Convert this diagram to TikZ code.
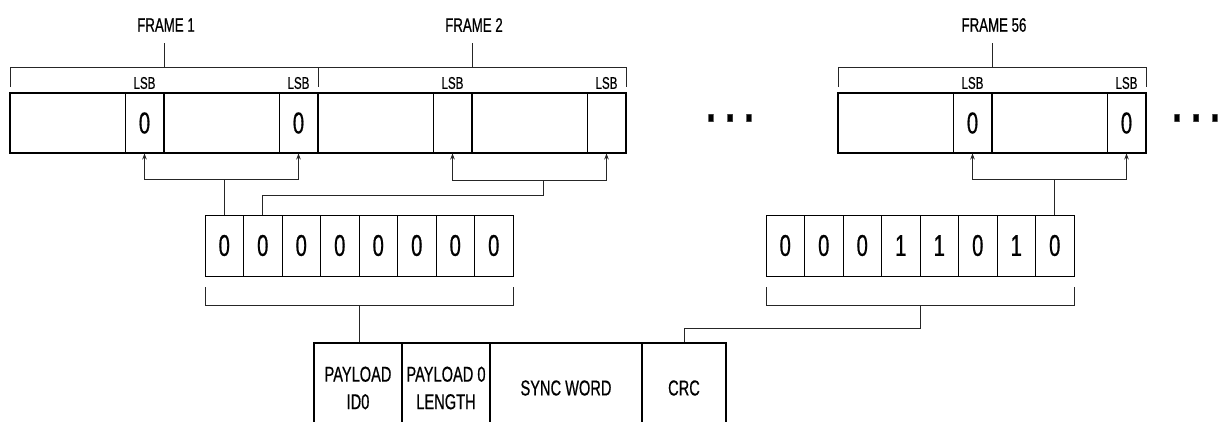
\documentclass[tikz,border=0pt]{standalone}
\usepackage{fontspec}
\setmainfont{Liberation Sans}[FakeStretch=0.68,FakeBold=0.6]
\usetikzlibrary{arrows.meta}
\begin{document}
\begin{tikzpicture}[x=1pt,y=-1pt,
  half/.style={draw, line width=1.6pt, minimum width=154pt, minimum height=60pt, inner sep=0pt},
  lsbcell/.style={draw, line width=0.9pt, minimum width=39pt, minimum height=60pt, inner sep=0pt, font=\fontsize{30}{31}\selectfont},
  bit/.style={draw, line width=1pt, minimum width=38.5pt, minimum height=61pt, inner sep=0pt, font=\fontsize{30}{31}\selectfont},
  lsb/.style={font=\fontsize{17}{18}\selectfont, inner sep=0pt},
  frm/.style={font=\fontsize{19.5}{20}\selectfont, inner sep=0pt},
  pl/.style={draw, line width=1.3pt, minimum height=90pt, inner sep=0pt, align=center, font=\fontsize{21.5}{27.5}\selectfont},
  conn/.style={line width=1pt, draw=black!85},
  arr/.style={conn, -{Stealth[length=6pt,width=4.5pt]}},
  dots/.style={font=\fontsize{50}{50}\selectfont\bfseries, inner sep=0pt}
]
\useasboundingbox (0,0) rectangle (1218,421);
\clip (0,0) rectangle (1218,421);

% ---------- frames ----------
\node[lsbcell] (f1ca) at (144.5,123) {0};
\node[lsbcell] (f1cb) at (298.5,123) {0};
\node[half] (f1a) at (87,123) {};
\node[half] (f1b) at (241,123) {};

\node[lsbcell] (f2ca) at (452.5,123) {};
\node[lsbcell] (f2cb) at (606.5,123) {};
\node[half] (f2a) at (395,123) {};
\node[half] (f2b) at (549,123) {};

\node[lsbcell] (f3ca) at (972.5,123) {0};
\node[lsbcell] (f3cb) at (1126.5,123) {0};
\node[half] (f3a) at (915,123) {};
\node[half] (f3b) at (1069,123) {};

% LSB labels
\foreach \n in {f1ca,f1cb,f2ca,f2cb,f3ca,f3cb}
  \node[lsb] (l\n) at ([yshift=40pt]\n.center) {LSB};

% frame braces and titles
\node[frm] (t1) at (166,25) {FRAME 1};
\node[frm] (t2) at (474,25) {FRAME 2};
\node[frm] (t3) at (994,25) {FRAME 56};
\draw[conn] (10,87) -- (10,67) -- (318,67) -- (318,87);
\draw[conn] (318,67) -- (626,67) -- (626,87);
\draw[conn] (838,87) -- (838,67) -- (1146,67) -- (1146,87);
\coordinate (s1) at (164,67);
\coordinate (s2) at (472,67);
\coordinate (s3) at (992,67);
\draw[conn] (s1) -- ++(0,-24);
\draw[conn] (s2) -- ++(0,-24);
\draw[conn] (s3) -- ++(0,-24);

% ellipses
\node[dots] (d1) at (730,118) {.\hspace{9.5pt}.\hspace{9.5pt}.};
\node[dots] (d2) at (1196,118) {.\hspace{9.5pt}.\hspace{9.5pt}.};

% ---------- bytes ----------
\foreach \v [count=\i from 0] in {0,0,0,0,0,0,0,0}
  \node[bit] (a\i) at (224.25+38.5*\i,245.5) {\v};
\foreach \v [count=\i from 0] in {0,0,0,1,1,0,1,0}
  \node[bit] (b\i) at (785.25+38.5*\i,245.5) {\v};

% byte -> frame connectors
\coordinate (j1) at (226,179);
\draw[conn] (a0.north) -- (a0.north |- j1);
\draw[arr] (a0.north |- j1) -| (f1ca.south);
\draw[arr] (a0.north |- j1) -| (f1cb.south);

\coordinate (j2a) at (543,195);
\coordinate (j2) at (543,180);
\draw[conn] (a1.north) |- (j2a) -- (j2);
\draw[arr] (j2) -| (f2ca.south);
\draw[arr] (j2) -| (f2cb.south);

\coordinate (j3) at (1055,179);
\draw[conn] (b7.north) -- (b7.north |- j3);
\draw[arr] (b7.north |- j3) -| (f3ca.south);
\draw[arr] (b7.north |- j3) -| (f3cb.south);

% ---------- payload fields ----------
\node[pl, minimum width=88pt] (pid) at (358,388) {PAYLOAD\\ID0};
\node[pl, minimum width=88pt] (plen) at (446,388) {PAYLOAD 0\\LENGTH};
\node[pl, minimum width=152pt] (sync) at (566,388) {SYNC WORD};
\node[pl, minimum width=84pt] (crc) at (684,388) {CRC};

% byte braces
\draw[conn] (205,287) -- (205,305) -- (513,305) -- (513,287);
\draw[conn] (766,287) -- (766,305) -- (1074,305) -- (1074,287);
\coordinate (m1) at (359,305);
\coordinate (m2) at (920,305);
\coordinate (m2b) at (920,328);
\draw[conn] (m1) -- (m1 |- pid.north);
\draw[conn] (m2) -- (m2b) -| (crc.north);
\end{tikzpicture}
\end{document}
